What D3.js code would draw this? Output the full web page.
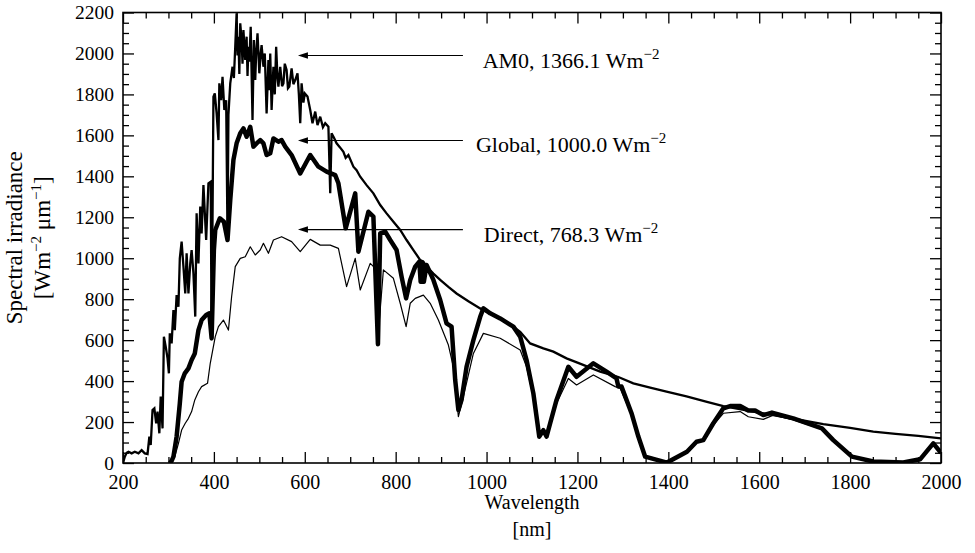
<!DOCTYPE html>
<html>
<head>
<meta charset="utf-8">
<script src="https://cdn.jsdelivr.net/npm/d3@7"></script>
<style>
  body { margin: 0; background: #fff; }
  svg { display: block; }
  text { font-family: "Liberation Serif", "Times New Roman", Tinos, "DejaVu Serif", serif; fill: #000; }
</style>
</head>
<body>
<div id="chart"></div>
<script>
// wavelength [nm] and spectral irradiance [W m-2 um-1]
const am0Wl = [200, 204, 208, 212, 219, 226, 234, 241, 248, 254, 258, 261, 265, 269, 273, 276, 280, 283, 287,
    290, 294, 298, 301, 303, 307, 311, 314, 318, 322, 325, 329, 333, 337, 340, 344, 348, 351, 355, 359,
    362, 366, 370, 373, 377, 383, 388, 393, 395, 399, 402, 406, 410, 412, 416, 419, 423, 427, 430, 432,
    436, 441, 444, 447, 450, 452, 454, 456, 458, 461, 463, 465, 469, 472, 474, 476, 478, 481, 485, 488, 491, 493, 496, 500, 503, 505, 509,
    512, 516, 520, 522, 524, 527, 531, 534, 537, 540, 542, 546, 550, 553, 556, 560, 563, 566, 571, 575, 579, 584, 587, 590, 593, 597, 600, 606, 612,
    617, 623, 628, 634, 640, 645, 652, 656, 659, 664, 670, 678, 685, 690, 696, 707, 714, 722, 736, 751, 766, 780, 795, 810, 824, 839,
    854, 861, 868, 883, 898, 916, 934, 960, 986, 1022, 1050, 1074, 1096, 1125, 1147, 1176, 1200, 1250,
    1290, 1323, 1360, 1396, 1440, 1485, 1521, 1560, 1590, 1631, 1690, 1741, 1800, 1851, 1900, 1950, 2000];
const am0Val = [0, 31, 50, 55, 47, 55, 47, 63, 47, 44, 129, 88, 259, 267, 194, 251, 145, 324, 169,
    617, 568, 511, 438, 633, 584, 747, 649, 820, 763, 999, 1081, 959, 828, 1024, 828, 975, 1040, 926, 715,
    1220, 975, 1252, 1121, 1357, 1089, 1366, 1374, 600, 1789, 1805, 1707, 1577, 1854, 1772, 1886, 1724, 1772, 1100, 1700,
    1854, 1935, 1880, 2033, 2196, 1990, 2082, 1900, 2147, 2065, 1950, 2114, 1968, 2082, 1890, 2033, 1960, 2130, 1675, 2065, 1870, 2000, 2098, 1903, 2000, 2041, 1935,
    2000, 1707, 1968, 1820, 2000, 1724, 1935, 1800, 2033, 1880, 1838, 1935, 1840, 1854, 1950, 1919, 1830, 1838, 1927, 1850, 1870, 1903, 1800, 1659, 1854, 1760, 1805, 1790, 1724,
    1659, 1716, 1650, 1691, 1640, 1659, 1642, 1317, 1610, 1590, 1561, 1540, 1520, 1490, 1504, 1447, 1430, 1398, 1357, 1317, 1260, 1219, 1178, 1138, 1089, 1040,
    991, 983, 960, 925, 894, 860, 828, 790, 755, 714, 680, 641, 584, 560, 544, 511, 490, 446,
    420, 389, 368, 348, 325, 299, 278, 262, 250, 234, 210, 190, 172, 153, 142, 132, 120];

const globalWl = [303, 307, 311, 318, 325, 329, 336, 344, 351, 358, 366, 373, 383, 390, 395, 400, 403, 413, 422,
    430, 436, 443, 450, 458, 465, 472, 480, 487, 494, 502, 509, 516, 524, 531, 542, 549, 557, 571, 590,
    612, 630, 648, 667, 674, 690, 711, 718, 740, 751, 761, 766, 777, 788, 802, 813, 823, 832, 843, 852,
    855, 858, 862, 868, 883, 898, 912, 923, 931, 938, 945, 956, 971, 986, 993, 1008, 1030, 1059, 1074, 1088,
    1103, 1116, 1125, 1132, 1140, 1154, 1180, 1198, 1235, 1264, 1286, 1290, 1297, 1319, 1334, 1349, 1397, 1441,
    1462, 1477, 1499, 1521, 1536, 1558, 1576, 1591, 1609, 1628, 1675, 1738, 1763, 1804, 1851, 1917, 1954, 1983, 2000];
const globalVal = [0, 10, 31, 129, 291, 397, 438, 462, 503, 535, 649, 698, 723, 731, 609, 1040, 1138, 1195, 1178,
    1089, 1284, 1480, 1561, 1610, 1634, 1593, 1642, 1545, 1561, 1577, 1561, 1504, 1513, 1585, 1569, 1577, 1545, 1504, 1414,
    1504, 1447, 1423, 1406, 1366, 1146, 1317, 1032, 1227, 1203, 580, 1121, 1130, 1089, 1040, 910, 804, 894, 959, 983,
    885, 980, 885, 967, 894, 796, 682, 666, 405, 259, 308, 470, 600, 714, 755, 731, 706, 666, 617, 503,
    340, 129, 160, 129, 194, 308, 470, 421, 487, 446, 413, 373, 373, 243, 129, 31, 2, 55,
    104, 112, 194, 267, 278, 278, 256, 256, 234, 246, 218, 169, 112, 31, 7, 3, 18, 96, 50];

const directWl = [305, 314, 322, 329, 337, 344, 351, 358, 366, 373, 386, 392, 403, 410, 421, 432, 439, 447, 458,
    469, 480, 491, 502, 509, 520, 531, 549, 571, 590, 612, 634, 656, 674, 692, 711, 722, 744, 755, 762,
    773, 795, 810, 823, 832, 843, 861, 876, 894, 916, 927, 938, 949, 971, 993, 1030, 1074, 1088, 1103, 1116,
    1125, 1132, 1140, 1154, 1180, 1198, 1235, 1283, 1294, 1319, 1334, 1349, 1397, 1441, 1462, 1477, 1499, 1521,
    1558, 1576, 1609, 1631, 1675, 1738, 1763, 1804, 1851, 1917, 1954, 1983, 2000];
const directVal = [0, 31, 96, 161, 194, 218, 251, 308, 348, 373, 389, 487, 617, 666, 698, 649, 812, 959, 999,
    1007, 1056, 1016, 1040, 1073, 1024, 1089, 1105, 1081, 1032, 1092, 1064, 1064, 1048, 861, 999, 845, 975, 951, 640,
    943, 902, 780, 666, 780, 804, 820, 780, 698, 576, 470, 226, 324, 535, 633, 609, 552, 470, 320, 120,
    150, 120, 180, 290, 413, 381, 430, 373, 365, 235, 125, 30, 2, 52, 100, 108, 185, 243,
    251, 226, 213, 234, 210, 165, 108, 30, 6, 3, 17, 92, 48];

const xMajorTicks = [200, 400, 600, 800, 1000, 1200, 1400, 1600, 1800, 2000];
const yMajorTicks = [0, 200, 400, 600, 800, 1000, 1200, 1400, 1600, 1800, 2000, 2200];

// arrow annotations
const noteNames = ["AM0, 1366.1 Wm", "Global, 1000.0 Wm", "Direct, 768.3 Wm"];
const noteLevel = [1990, 1575, 1140];
const arrowTail = 948;
const arrowHead = 585;
const noteCenter = 1186;

const width = 975, height = 553;
const margin = { top: 12.5, right: 34, bottom: 90, left: 123 };

const svg = d3.select("#chart").append("svg")
    .attr("width", width)
    .attr("height", height);

const x = d3.scaleLinear().domain([200, 2000]).range([margin.left, width - margin.right]);
const y = d3.scaleLinear().domain([0, 2200]).range([height - margin.bottom, margin.top]);

const zip = (a, b) => a.map((w, i) => [w, b[i]]);
const line = d3.line().x(d => x(d[0])).y(d => y(d[1]));

svg.append("defs").append("clipPath").attr("id", "clip")
    .append("rect")
    .attr("x", margin.left).attr("y", margin.top)
    .attr("width", x(2000) - x(200)).attr("height", y(0) - y(2200));

const plot = svg.append("g").attr("clip-path", "url(#clip)");

plot.append("path")
    .datum(zip(directWl, directVal))
    .attr("d", line)
    .attr("fill", "none")
    .attr("stroke", "#000")
    .attr("stroke-width", 1.2)
    .attr("stroke-linejoin", "round");

plot.append("path")
    .datum(zip(globalWl, globalVal))
    .attr("d", line)
    .attr("fill", "none")
    .attr("stroke", "#000")
    .attr("stroke-width", 4.5)
    .attr("stroke-linejoin", "round");

plot.append("path")
    .datum(zip(am0Wl, am0Val))
    .attr("d", line)
    .attr("fill", "none")
    .attr("stroke", "#000")
    .attr("stroke-width", 2.3)
    .attr("stroke-linejoin", "miter")
    .attr("stroke-miterlimit", 3);

// axes: ticks inside on all four sides
const xMinor = d3.range(200, 2001, 50);
const yMinor = d3.range(0, 2201, 50);
const tickFormat = d => xMajorTicks.includes(d) ? d : "";

const axisStyle = size => g => {
    g.select(".domain").remove();
    g.selectAll(".tick line").attr("stroke", "#000").attr("stroke-width", 1.3);
    g.selectAll(".tick text").style("font-size", size);
};

svg.append("g")
    .attr("transform", `translate(0,${y(0)})`)
    .call(d3.axisBottom(x).tickValues(xMinor).tickSize(-6).tickPadding(12).tickFormat(tickFormat))
    .call(axisStyle("20px"))
    .call(g => g.selectAll(".tick").filter(d => xMajorTicks.includes(d)).select("line").attr("y2", -11));

svg.append("g")
    .attr("transform", `translate(0,${y(2200)})`)
    .call(d3.axisTop(x).tickValues(xMinor).tickSize(-6).tickFormat(""))
    .call(axisStyle("20px"))
    .call(g => g.selectAll(".tick").filter(d => xMajorTicks.includes(d)).select("line").attr("y2", 11));

svg.append("g")
    .attr("transform", `translate(${x(200)},0)`)
    .call(d3.axisLeft(y).tickValues(yMinor).tickSize(-6).tickPadding(9)
        .tickFormat(d => yMajorTicks.includes(d) ? d : ""))
    .call(axisStyle("19.5px"))
    .call(g => g.selectAll(".tick").filter(d => yMajorTicks.includes(d)).select("line").attr("x2", 11));

svg.append("g")
    .attr("transform", `translate(${x(2000)},0)`)
    .call(d3.axisRight(y).tickValues(yMinor).tickSize(-6).tickFormat(""))
    .call(axisStyle("20px"))
    .call(g => g.selectAll(".tick").filter(d => yMajorTicks.includes(d)).select("line").attr("x2", -11));

svg.append("rect")
    .attr("x", x(200)).attr("y", y(2200))
    .attr("width", x(2000) - x(200)).attr("height", y(0) - y(2200))
    .attr("fill", "none")
    .attr("stroke", "#000")
    .attr("stroke-width", 1.6);

// annotations
const notes = svg.append("g");
noteNames.forEach((name, i) => {
    const yy = y(noteLevel[i]);
    notes.append("line")
        .attr("x1", x(arrowTail)).attr("x2", x(arrowHead) + 8)
        .attr("y1", yy).attr("y2", yy)
        .attr("stroke", "#000").attr("stroke-width", 1.2);
    const hx = x(arrowHead);
    notes.append("path")
        .attr("d", `M${hx},${yy} L${hx + 10},${yy - 3.2} L${hx + 10},${yy + 3.2} Z`)
        .attr("fill", "#000");
    const t = notes.append("text")
        .attr("x", x(noteCenter)).attr("y", yy + 12)
        .attr("text-anchor", "middle")
        .style("font-size", "22px");
    t.append("tspan").text(name);
    t.append("tspan").attr("dy", -9).style("font-size", "15px").text("\u22122");
});

// axis titles
const xt = svg.append("text")
    .attr("text-anchor", "middle")
    .style("font-size", "20px");
xt.append("tspan").attr("x", x(1100)).attr("y", 509).text("Wavelength");
xt.append("tspan").attr("x", x(1100)).attr("y", 536).text("[nm]");

const yc = (y(0) + y(2200)) / 2;
svg.append("text")
    .attr("transform", `translate(22,${yc}) rotate(-90)`)
    .attr("text-anchor", "middle")
    .style("font-size", "23px")
    .text("Spectral irradiance");

const yt2 = svg.append("text")
    .attr("transform", `translate(50,${yc}) rotate(-90)`)
    .attr("text-anchor", "middle")
    .style("font-size", "23px");
yt2.append("tspan").text("[Wm");
yt2.append("tspan").attr("dy", -9).style("font-size", "15px").text("\u22122");
yt2.append("tspan").attr("dy", 9).text(" \u03bcm");
yt2.append("tspan").attr("dy", -9).style("font-size", "15px").text("\u22121");
yt2.append("tspan").attr("dy", 9).text("]");
</script>
</body>
</html>
